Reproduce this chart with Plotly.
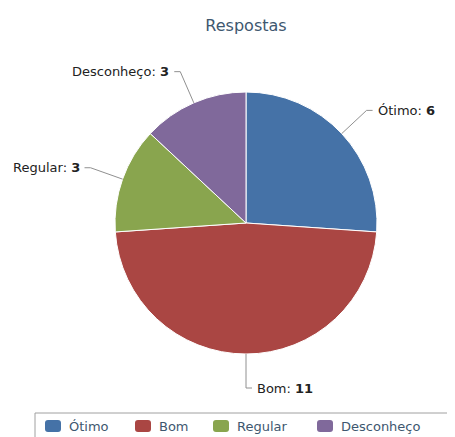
import math
import plotly.graph_objects as go

title = "Respostas"
categories = ["Ótimo", "Bom", "Regular", "Desconheço"]
values = [6, 11, 3, 3]
colors = ["#4572A7", "#AA4643", "#89A54E", "#80699B"]

# page has an 8px body margin; work in page pixels and convert
OFF = 8
W, H = 455 - OFF, 437 - OFF
cx, cy, R = 246, 223, 131
ELBOW = 165
legend_x = [45, 135, 213, 317]   # left edge of each legend key (page px)
legend_y = 426

def px(x):
    return (x - OFF) / W

def py(y):
    return 1 - (y - OFF) / H

fig = go.Figure()
fig.add_trace(go.Pie(
    labels=categories, values=values, sort=False, direction="clockwise", rotation=0,
    marker=dict(colors=colors, line=dict(color="white", width=1)),
    textinfo="none", hoverinfo="label+value", showlegend=False,
    domain=dict(x=[px(cx - R), px(cx + R)], y=[py(cy + R), py(cy - R)]),
))

total = sum(values)
cum = 0
shapes, annots = [], []
for lab, v in zip(categories, values):
    mid = (cum + v / 2) / total * 2 * math.pi
    cum += v
    s, c = math.sin(mid), math.cos(mid)
    x0, y0 = cx + R * s, cy - R * c
    x1, y1 = cx + ELBOW * s, cy - ELBOW * c
    right = s >= -1e-9
    x2 = x1 + (6 if right else -6)
    shapes.append(dict(type="path", xref="paper", yref="paper",
                       path=f"M{px(x0)},{py(y0)} L{px(x1)},{py(y1)} L{px(x2)},{py(y1)}",
                       line=dict(color="#909090", width=1)))
    annots.append(dict(xref="paper", yref="paper", x=px(x2 + (3 if right else -3)), y=py(y1),
                       xanchor="left" if right else "right", yanchor="middle",
                       text=f"{lab}: <b>{v}</b>", showarrow=False,
                       font=dict(family="DejaVu Sans", size=13, color="#222222")))

# legend frame
shapes.append(dict(type="rect", xref="paper", yref="paper",
                   x0=px(35), x1=px(470), y0=py(413), y1=py(460),
                   line=dict(color="#A0A0A0", width=1), fillcolor="rgba(0,0,0,0)"))
# legend keys
for lab, col, lx in zip(categories, colors, legend_x):
    x0, x1 = lx, lx + 16
    y0, y1 = legend_y - 6, legend_y + 6
    r = 3
    path = (f"M{px(x0 + r)},{py(y0)} L{px(x1 - r)},{py(y0)} Q{px(x1)},{py(y0)} {px(x1)},{py(y0 + r)} "
            f"L{px(x1)},{py(y1 - r)} Q{px(x1)},{py(y1)} {px(x1 - r)},{py(y1)} "
            f"L{px(x0 + r)},{py(y1)} Q{px(x0)},{py(y1)} {px(x0)},{py(y1 - r)} "
            f"L{px(x0)},{py(y0 + r)} Q{px(x0)},{py(y0)} {px(x0 + r)},{py(y0)} Z")
    shapes.append(dict(type="path", xref="paper", yref="paper", path=path,
                       fillcolor=col, line=dict(width=0)))
    annots.append(dict(xref="paper", yref="paper", x=px(lx + 22), y=py(legend_y),
                       xanchor="left", yanchor="middle", text=lab, showarrow=False,
                       font=dict(family="DejaVu Sans", size=13, color="#3E576F")))

fig.update_layout(
    width=W, height=H,
    margin=dict(l=0, r=0, t=0, b=0),
    paper_bgcolor="white", plot_bgcolor="white",
    title=dict(text=title, x=px(246), xanchor="center", y=py(25), yanchor="middle",
               font=dict(family="DejaVu Sans", size=16, color="#3E576F")),
    shapes=shapes, annotations=annots,
    showlegend=False,
)

fig.write_html("out.html")
